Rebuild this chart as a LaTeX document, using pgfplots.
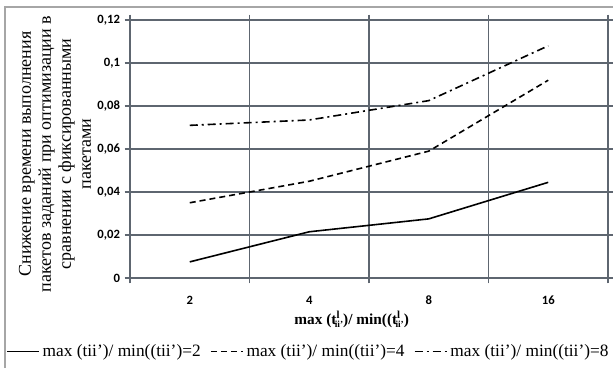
\documentclass[border=0pt]{standalone}
\usepackage{fontspec}
\setmainfont{Liberation Serif}
\newfontfamily\carlito{Carlito}
\usepackage{pgfplots}
\pgfplotsset{compat=1.18}
\definecolor{gridc}{HTML}{5E6670}
\begin{document}
\begin{tikzpicture}
\useasboundingbox (0pt,0pt) rectangle (459.75pt,276pt);
\clip (0pt,0pt) rectangle (459.75pt,276pt);
\draw[gray!70, line width=0.9pt] (3.75pt,0pt) -- (3.75pt,270.75pt) -- (459.75pt,270.75pt);
\begin{axis}[
  at={(97.5pt,67.5pt)}, anchor=south west,
  scale only axis, width=358.5pt, height=193.5pt,
  xmin=-0.5, xmax=3.5, ymin=0, ymax=0.12,
  xtick={0,1,2,3}, xticklabels={2,4,8,16},
  major x tick style={draw=none},
  minor xtick={-0.5,0.5,1.5,2.5,3.5},
  xminorgrids, ymajorgrids,
  ytick={0,0.02,0.04,0.06,0.08,0.1,0.12},
  tick align=outside,
  major tick length=4pt, minor tick length=4pt,
  tick style={gridc, line width=0.8pt},
  grid style={gridc, line width=0.8pt},
  axis line style={gridc, line width=0.8pt},
  /pgf/number format/assume math mode=true,
  /pgf/number format/use comma,
  /pgf/number format/fixed,
  /pgf/number format/precision=2,
  ticklabel style={font=\carlito\bfseries\fontsize{9.5}{11}\selectfont},
  xticklabel style={yshift=-6pt},
  xlabel={\bfseries max (t\textsuperscript{l}\kern-0.35em\raisebox{-0.45ex}{\scriptsize ii'})/ min((t\textsuperscript{l}\kern-0.35em\raisebox{-0.45ex}{\scriptsize ii'})},
  xlabel style={font=\fontsize{11.5}{13}\selectfont, yshift=2pt, xshift=-13pt},
  legend columns=3,
  legend style={draw=none, fill=none, font=\fontsize{13}{15}\selectfont,
    at={(-0.268,-0.285)}, anchor=west,
    /tikz/every even column/.append style={column sep=5pt}},
  legend image code/.code={\draw[#1] (0,0) -- (0.85cm,0);},
]
\addplot[black, line width=1.2pt] coordinates {(0,0.0075) (1,0.0215) (2,0.0275) (3,0.0445)};
\addlegendentry{max (tii')/ min((tii')=2}
\addplot[black, line width=1.2pt, dash pattern=on 4.5pt off 3pt] coordinates {(0,0.035) (1,0.045) (2,0.059) (3,0.092)};
\addlegendentry{max (tii')/ min((tii')=4}
\addplot[black, line width=1.2pt, dash pattern=on 6pt off 3pt on 1.5pt off 3pt] coordinates {(0,0.071) (1,0.0735) (2,0.0825) (3,0.108)};
\addlegendentry{max (tii')/ min((tii')=8}
\end{axis}
\node[rotate=90, align=center, font=\fontsize{13.5}{15}\selectfont] at (41.25pt,160.5pt)
  {Снижение времени выполнения\\пакетов заданий при оптимизации в\\сравнении с фиксированными\\пакетами};
\end{tikzpicture}
\end{document}
